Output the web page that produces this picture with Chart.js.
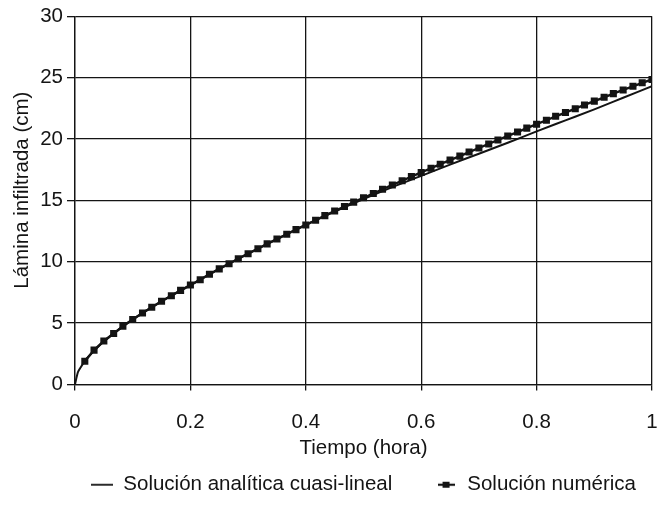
<!DOCTYPE html>
<html lang="es">
<head>
<meta charset="utf-8">
<title>Lámina infiltrada vs tiempo</title>
<script src="https://cdn.jsdelivr.net/npm/chart.js@4.4.1/dist/chart.umd.min.js"></script>
<style>
  html, body { margin: 0; padding: 0; background: #fff; }
  #wrap { width: 667px; height: 505px; }
</style>
</head>
<body>
<div id="wrap"><canvas id="infiltChart" width="667" height="505"></canvas></div>
<script>
// Datos
const seriesNames = ['Solución analítica cuasi-lineal', 'Solución numérica'];

// Solucion analitica (linea continua)
const anaTime = [0, 0.005, 0.01, 0.02, 0.03, 0.05, 0.075, 0.1, 0.15, 0.2, 0.25, 0.3, 0.35, 0.4,
  0.45, 0.5, 0.55, 0.6, 0.65, 0.7, 0.75, 0.8, 0.85, 0.9, 0.95, 1.0];
const anaDepth = [0, 1.0, 1.4, 2.1, 2.6, 3.5, 4.45, 5.3, 6.78, 8.1, 9.42, 10.66, 11.85, 13.0,
  14.08, 15.1, 16.08, 17.0, 17.92, 18.8, 19.7, 20.62, 21.52, 22.42, 23.36, 24.3];

// Solucion numerica (cada minuto)
const numTime = [0.017, 0.033, 0.050, 0.067, 0.083, 0.100, 0.117, 0.133, 0.150, 0.167,
  0.183, 0.200, 0.217, 0.233, 0.250, 0.267, 0.283, 0.300, 0.317, 0.333,
  0.350, 0.367, 0.383, 0.400, 0.417, 0.433, 0.450, 0.467, 0.483, 0.500,
  0.517, 0.533, 0.550, 0.567, 0.583, 0.600, 0.617, 0.633, 0.650, 0.667,
  0.683, 0.700, 0.717, 0.733, 0.750, 0.767, 0.783, 0.800, 0.817, 0.833,
  0.850, 0.867, 0.883, 0.900, 0.917, 0.933, 0.950, 0.967, 0.983, 1.000];
const numDepth = [1.9, 2.8, 3.55, 4.15, 4.75, 5.3, 5.82, 6.3, 6.78, 7.23,
  7.67, 8.1, 8.53, 8.98, 9.42, 9.84, 10.25, 10.66, 11.06, 11.46,
  11.85, 12.24, 12.62, 13.0, 13.38, 13.76, 14.13, 14.5, 14.86, 15.21,
  15.56, 15.91, 16.26, 16.6, 16.94, 17.28, 17.62, 17.95, 18.28, 18.61,
  18.94, 19.27, 19.6, 19.92, 20.25, 20.57, 20.89, 21.21, 21.53, 21.85,
  22.16, 22.47, 22.78, 23.09, 23.4, 23.7, 24.0, 24.3, 24.58, 24.85];

const xTickLabels = ['0', '0.2', '0.4', '0.6', '0.8', '1'];
const yTickLabels = ['0', '5', '10', '15', '20', '25', '30'];

const INK = '#141414';
const FONT = { family: "'Liberation Sans', Arial, Helvetica, sans-serif", size: 20.5 };

/**
 * Small legend icons: plain line, and line with a square marker
 */
function makeIcon(withMarker) {
    const c = document.createElement('canvas');
    c.width = withMarker ? 17 : 22;
    c.height = 10;
    const g = c.getContext('2d');
    g.strokeStyle = INK;
    g.lineWidth = withMarker ? 2.2 : 1.8;
    g.beginPath();
    g.moveTo(0, 5);
    g.lineTo(c.width, 5);
    g.stroke();
    if (withMarker) {
        g.fillStyle = INK;
        g.fillRect(5, 2, 7, 6);
    }
    return c;
}
const legendIcons = [makeIcon(false), makeIcon(true)];

const toPoints = (xs, ys) => xs.map((x, i) => ({ x: x, y: ys[i] }));

const ctx = document.getElementById('infiltChart').getContext('2d');

new Chart(ctx, {
    type: 'scatter',
    data: {
        datasets: [
            {
                label: seriesNames[0],
                data: toPoints(anaTime, anaDepth),
                showLine: true,
                borderColor: INK,
                borderWidth: 2,
                pointRadius: 0,
                cubicInterpolationMode: 'monotone',
                order: 2
            },
            {
                label: seriesNames[1],
                data: toPoints(numTime, numDepth),
                showLine: true,
                borderColor: INK,
                backgroundColor: INK,
                borderWidth: 2.4,
                pointStyle: 'rect',
                pointRadius: 5,
                pointBorderWidth: 0,
                order: 1
            }
        ]
    },
    options: {
        responsive: false,
        animation: false,
        layout: {
            padding: { top: 15, right: 15, left: 0, bottom: 0 }
        },
        scales: {
            x: {
                type: 'linear',
                min: 0,
                max: 1,
                ticks: {
                    stepSize: 0.2,
                    padding: 3,
                    color: INK,
                    // tall line box pushes the labels down without widening the side padding
                    font: Object.assign({}, FONT, { lineHeight: '58px' }),
                    callback: (v, i) => xTickLabels[i]
                },
                grid: { color: INK, lineWidth: 1.3, tickLength: 6 },
                border: { color: INK, width: 1.3 },
                title: {
                    display: true,
                    text: 'Tiempo (hora)',
                    color: INK,
                    font: FONT,
                    padding: { top: 3, bottom: 2 }
                },
                afterFit: (scale) => { scale.height = 78; }
            },
            y: {
                type: 'linear',
                min: 0,
                max: 30,
                ticks: {
                    stepSize: 5,
                    padding: 4,
                    color: INK,
                    font: FONT,
                    callback: (v, i) => yTickLabels[i]
                },
                grid: { color: INK, lineWidth: 1.3, tickLength: 8 },
                border: { color: INK, width: 1.3 },
                title: {
                    display: true,
                    text: '\u2003Lámina infiltrada (cm)',
                    color: INK,
                    font: FONT,
                    padding: { top: 10.5, bottom: 0 }
                },
                afterFit: (scale) => { scale.width = 75; }
            }
        },
        plugins: {
            legend: {
                position: 'bottom',
                fullSize: false,
                labels: {
                    usePointStyle: true,
                    pointStyleWidth: 22,
                    boxHeight: 10,
                    padding: 12,
                    color: INK,
                    font: FONT,
                    generateLabels: (chart) => chart.data.datasets.map((ds, i) => ({
                        text: i === 0 ? ds.label + '\u2003\u2002' : ds.label,
                        pointStyle: legendIcons[i],
                        fillStyle: INK,
                        strokeStyle: INK,
                        lineWidth: 0,
                        fontColor: INK,
                        hidden: false,
                        datasetIndex: i
                    }))
                }
            },
            tooltip: { enabled: false }
        }
    }
});
</script>
</body>
</html>
